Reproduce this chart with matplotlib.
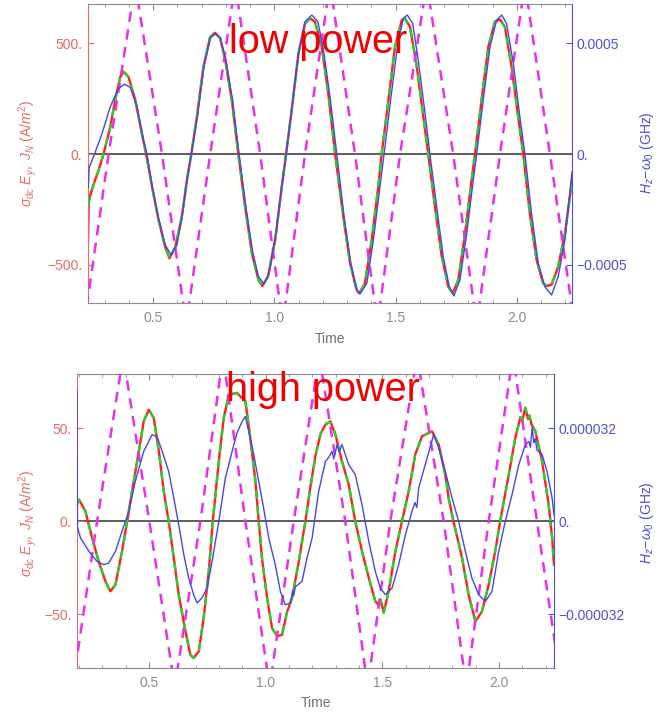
import numpy as np
import matplotlib
matplotlib.use("Agg")
import matplotlib.pyplot as plt
from matplotlib.ticker import FixedLocator, MultipleLocator

plt.rcParams['font.family'] = ['Liberation Sans', 'DejaVu Sans']
plt.rcParams['mathtext.fontset'] = 'custom'
plt.rcParams['mathtext.rm'] = 'Liberation Sans'
plt.rcParams['mathtext.it'] = 'Liberation Sans:italic'

# ---------------- low power panel ----------------
red_lo_t = [0.231, 0.234, 0.250, 0.275, 0.295, 0.323, 0.343, 0.364, 0.378, 0.398,
            0.426, 0.453, 0.471, 0.495, 0.522, 0.549, 0.567, 0.591, 0.618, 0.639,
            0.657, 0.680, 0.707, 0.735, 0.755, 0.776, 0.797, 0.824, 0.851, 0.879,
            0.907, 0.934, 0.950, 0.973, 1.003, 1.030, 1.048, 1.071, 1.099, 1.126,
            1.147, 1.167, 1.195, 1.222, 1.250, 1.284, 1.312, 1.339, 1.350, 1.373,
            1.401, 1.428, 1.442, 1.470, 1.497, 1.525, 1.538, 1.559, 1.587, 1.614,
            1.634, 1.662, 1.690, 1.717, 1.735, 1.758, 1.786, 1.813, 1.827, 1.854,
            1.882, 1.909, 1.930, 1.950, 1.978, 2.005, 2.026, 2.053, 2.081, 2.108,
            2.122, 2.143, 2.170, 2.198, 2.227]
red_lo = [-390, -210, -150, -72, 0, 123, 244, 349, 372, 349,
          244, 93, 0, -148, -298, -419, -471, -419, -283, -117,
          0, 168, 394, 530, 548, 523, 425, 244, 0, -238,
          -449, -569, -596, -554, -388, -148, 0, 199, 455, 590,
          613, 598, 485, 274, 0, -283, -494, -614, -629, -584,
          -388, -148, 0, 244, 485, 605, 613, 575, 394, 168,
          0, -238, -464, -599, -629, -569, -358, -117, 0, 244,
          485, 598, 608, 575, 394, 168, 0, -268, -479, -584,
          -596, -590, -509, -358, -120]
# green dashed curve coincides with the red one except at the very start
green_lo_t = [0.232] + red_lo_t[2:]
green_lo = [-230] + red_lo[2:]

# H_z - w0 in units of 1e-6 GHz
blue_lo_t = [0.232, 0.236, 0.258, 0.289, 0.323, 0.357, 0.382, 0.405, 0.433, 0.460,
             0.474, 0.495, 0.522, 0.549, 0.574, 0.598, 0.621, 0.640, 0.657, 0.682,
             0.709, 0.735, 0.755, 0.776, 0.800, 0.827, 0.854, 0.882, 0.910, 0.934,
             0.957, 0.978, 1.006, 1.030, 1.048, 1.071, 1.099, 1.126, 1.154, 1.179,
             1.202, 1.229, 1.257, 1.287, 1.315, 1.339, 1.353, 1.381, 1.408, 1.435,
             1.452, 1.479, 1.507, 1.531, 1.548, 1.570, 1.593, 1.621, 1.641, 1.669,
             1.696, 1.721, 1.740, 1.765, 1.793, 1.820, 1.834, 1.861, 1.889, 1.916,
             1.937, 1.957, 1.985, 2.012, 2.033, 2.060, 2.088, 2.115, 2.143, 2.170,
             2.198, 2.227]
blue_lo = [-150, -60, 0, 93, 214, 297, 316, 301, 214, 63,
           0, -140, -290, -410, -456, -410, -268, -110, 0, 168,
           394, 523, 542, 527, 425, 244, 0, -238, -441, -554,
           -587, -539, -358, -148, 0, 199, 455, 598, 628, 598,
           470, 259, 0, -283, -494, -614, -632, -584, -388, -148,
           0, 244, 485, 613, 628, 590, 425, 184, 0, -238,
           -464, -599, -641, -569, -358, -117, 0, 244, 485, 605,
           628, 590, 410, 168, 0, -268, -494, -599, -637, -554,
           -388, -80]

mag_lo_t = [0.215, 0.316, 0.426, 0.536, 0.636, 0.735, 0.838, 0.941, 1.034, 1.126, 1.229,
            1.332, 1.425, 1.518, 1.628, 1.737, 1.834, 1.930, 2.033, 2.136, 2.237]
mag_lo = [-770, 0, 770, 0, -770, 0, 770, 0, -770, 0, 770,
          0, -770, 0, 770, 0, -770, 0, 770, 0, -770]

# ---------------- high power panel ----------------
red_hi_t = [0.191, 0.200, 0.227, 0.256, 0.284, 0.313, 0.334, 0.356, 0.384, 0.406,
            0.427, 0.456, 0.477, 0.499, 0.520, 0.542, 0.563, 0.584, 0.606, 0.627,
            0.656, 0.677, 0.691, 0.713, 0.734, 0.756, 0.773, 0.799, 0.820, 0.842,
            0.877, 0.913, 0.934, 0.956, 0.970, 0.984, 1.006, 1.027, 1.049, 1.070,
            1.092, 1.113, 1.142, 1.170, 1.191, 1.213, 1.235, 1.256, 1.277, 1.299,
            1.327, 1.356, 1.384, 1.413, 1.442, 1.470, 1.485, 1.492, 1.506, 1.527,
            1.556, 1.584, 1.613, 1.641, 1.670, 1.713, 1.742, 1.770, 1.785, 1.805,
            1.842, 1.870, 1.899, 1.927, 1.956, 1.984, 2.005, 2.042, 2.070, 2.092,
            2.100, 2.113, 2.125, 2.130, 2.140, 2.156, 2.185, 2.213, 2.228, 2.236]
red_hi = [9.0, 11.7, 5.4, -8.9, -21.5, -32.3, -37.6, -34.0, -16.1, 0,
          16.1, 37.6, 53.8, 60.0, 55.6, 37.6, 16.1, 0, -19.7, -39.4,
          -59.1, -71.7, -73.4, -69.9, -51.9, -26.9, 0, 32.3, 55.6, 68.1,
          69.0, 64.5, 44.8, 21.5, 0, -19.7, -41.2, -57.3, -61.8, -60.9,
          -48.4, -41.2, -21.5, 0, 18.0, 35.0, 47.0, 52.0, 53.8, 46.6,
          32.3, 19.7, 0, -16.1, -30.4, -43.0, -45.0, -42.0, -49.0, -37.6,
          -16.1, 0, 16.1, 35.9, 45.7, 48.4, 41.2, 25.1, 12.0, 0,
          -19.7, -39.4, -53.8, -48.4, -34.0, -16.1, 0, 25.1, 44.8, 56.0,
          54.0, 61.0, 55.0, 57.0, 52.0, 48.4, 32.3, 9.0, -8.9, -23.3]
green_hi_t = red_hi_t
green_hi = red_hi

# H_z - w0 in units of 1e-6 GHz
blue_hi_t = [0.191, 0.193, 0.206, 0.242, 0.277, 0.306, 0.327, 0.356, 0.384, 0.413,
             0.441, 0.477, 0.513, 0.534, 0.556, 0.584, 0.606, 0.627, 0.649, 0.670,
             0.691, 0.706, 0.727, 0.749, 0.770, 0.799, 0.827, 0.856, 0.877, 0.899,
             0.913, 0.927, 0.949, 0.970, 0.991, 1.013, 1.041, 1.063, 1.084, 1.106,
             1.115, 1.120, 1.127, 1.156, 1.177, 1.199, 1.227, 1.256, 1.270, 1.284,
             1.292, 1.306, 1.316, 1.327, 1.356, 1.384, 1.413, 1.442, 1.470, 1.491,
             1.513, 1.542, 1.570, 1.599, 1.627, 1.640, 1.648, 1.656, 1.692, 1.720,
             1.742, 1.770, 1.799, 1.827, 1.856, 1.884, 1.913, 1.942, 1.970, 1.999,
             2.027, 2.056, 2.085, 2.113, 2.128, 2.135, 2.142, 2.150, 2.156, 2.163,
             2.185, 2.206, 2.228, 2.236]
blue_hi = [45.3, -2.0, -5.7, -10.3, -13.8, -14.9, -14.3, -10.3, -3.4, 3.4,
           13.8, 24.1, 29.8, 29.2, 24.1, 17.2, 8.0, -1.1, -11.5, -19.5,
           -25.2, -28.1, -26.3, -22.9, -13.8, 0, 14.9, 24.1, 30.4, 34.4,
           36.1, 31.0, 22.9, 13.8, 4.6, -5.7, -14.9, -24.1, -28.7, -28.1,
           -24.0, -25.5, -22.5, -20.6, -12.6, -5.7, 10.3, 20.6, 22.0, 24.1,
           21.5, 26.4, 24.0, 26.4, 19.5, 16.1, 5.7, -6.9, -17.2, -22.9,
           -25.2, -22.9, -14.9, -4.6, 3.4, 6.5, 4.8, 11.5, 21.8, 29.8,
           25.2, 17.2, 8.0, 0, -10.3, -19.5, -25.2, -27.5, -24.1, -10.3,
           0, 9.2, 19.5, 26.4, 27.5, 25.5, 32.1, 27.0, 28.5, 24.5,
           23.0, 17.2, 8.0, 2.3]

mag_hi_t = [0.172, 0.277, 0.389, 0.501, 0.610, 0.720, 0.817, 0.913, 1.017, 1.120, 1.230,
            1.341, 1.437, 1.534, 1.649, 1.763, 1.860, 1.956, 2.060, 2.163, 2.268]
mag_hi = [-89, 0, 89, 0, -89, 0, 89, 0, -89, 0, 89,
          0, -89, 0, 89, 0, -89, 0, 89, 0, -89]

RED = '#ff1f1f'
GREEN = '#2ecc2e'
MAGENTA = '#e632e6'
BLUE = '#4646e8'
LEFT_C = '#e86a6a'
RIGHT_C = '#4f4fdc'
GREY = '#8c8c8c'

fig = plt.figure(figsize=(6.63, 7.15), dpi=100)


def panel(rect, xlim, ylim, yticks, ylabels, rscale, rticks, rlabels,
          red_t, red, green_t, green, mag_t, mag, blue_t, blue, title, title_xy, ylab_y):
    ax = fig.add_axes(rect)
    ax.set_xlim(*xlim)
    ax.set_ylim(*ylim)
    ax.axhline(0, color='#505050', lw=1.3, zorder=1)
    ax.plot(red_t, red, color=RED, lw=1.7, zorder=2)
    ax.plot(green_t, green, color=GREEN, lw=1.7, ls=(0, (3.5, 3)), zorder=3)
    ax.plot(mag_t, mag, color=MAGENTA, lw=1.8, ls=(0, (4.2, 3.0)), zorder=4)

    ax.xaxis.set_major_locator(FixedLocator([0.5, 1.0, 1.5, 2.0]))
    ax.xaxis.set_minor_locator(MultipleLocator(0.1))
    ax.set_xticklabels(['0.5', '1.0', '1.5', '2.0'])
    ax.set_yticks(yticks)
    ax.set_yticklabels(ylabels)
    ax.tick_params(axis='x', which='both', direction='in', top=True, colors=GREY,
                   labelsize=10, pad=6)
    ax.tick_params(axis='x', which='major', length=4)
    ax.tick_params(axis='x', which='minor', length=2.5)
    ax.tick_params(axis='y', direction='in', length=4, colors=LEFT_C, labelsize=10, pad=4)
    for s in ['top', 'bottom']:
        ax.spines[s].set_color(GREY)
    ax.spines['left'].set_color(LEFT_C)
    ax.spines['right'].set_visible(False)

    axr = ax.twinx()
    axr.set_ylim(ylim[0] * rscale, ylim[1] * rscale)
    axr.plot(blue_t, np.array(blue) * 1e-6, color=BLUE, lw=1.0, zorder=5)
    axr.set_yticks(rticks)
    axr.set_yticklabels(rlabels)
    axr.tick_params(axis='y', direction='in', length=4, colors=RIGHT_C, labelsize=10, pad=3)
    for s in ['top', 'bottom', 'left']:
        axr.spines[s].set_visible(False)
    axr.spines['right'].set_color(RIGHT_C)

    fig.text(title_xy[0] / 663, 1 - title_xy[1] / 715, title, color='#f00000',
             fontsize=28.5, ha='center', va='baseline')
    fig.text(28 / 663, 1 - ylab_y / 715,
             r'$\sigma_{\rm dc}\ E_y,\ J_N$ (A/$m^2$)', color=LEFT_C,
             fontsize=10, rotation=90, ha='center', va='center')
    fig.text(647 / 663, 1 - ylab_y / 715, r'$H_z\!-\!\omega_0$ (GHz)', color=RIGHT_C,
             fontsize=10, rotation=90, ha='center', va='center')
    return ax


ax1 = panel([88 / 663, 1 - 303 / 715, 484 / 663, 299 / 715], (0.231, 2.227), (-673, 678),
            [-500, 0, 500], ['\u2212500.', '0.', '500.'], 1e-6,
            [-0.0005, 0, 0.0005], ['\u22120.0005', '0.', '0.0005'],
            red_lo_t, red_lo, green_lo_t, green_lo, mag_lo_t, mag_lo, blue_lo_t, blue_lo,
            'low power', (318, 53), 153)
fig.text(330 / 663, 1 - 339 / 715, 'Time', color='#707070', fontsize=10,
         ha='center', va='center')

ax2 = panel([77 / 663, 1 - 668 / 715, 477 / 663, 294 / 715], (0.191, 2.236), (-78.8, 79.2),
            [-50, 0, 50], ['\u221250.', '0.', '50.'], 0.64e-6,
            [-0.000032, 0, 0.000032], ['\u22120.000032', '0.', '0.000032'],
            red_hi_t, red_hi, green_hi_t, green_hi, mag_hi_t, mag_hi, blue_hi_t, blue_hi,
            'high power', (323, 401), 523)
fig.text(316 / 663, 1 - 703 / 715, 'Time', color='#707070', fontsize=10,
         ha='center', va='center')

fig.savefig('out.png', dpi=100, facecolor='white')
